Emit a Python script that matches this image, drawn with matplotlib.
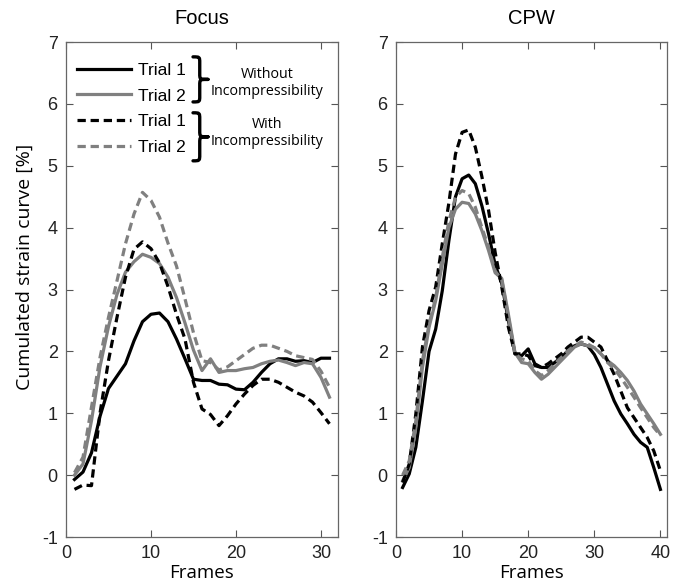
import numpy as np
import matplotlib.pyplot as plt
from matplotlib.path import Path
from matplotlib.patches import PathPatch

plt.rcParams["axes.unicode_minus"] = False

# cumulated strain per frame, Focus acquisition (31 frames)
focus_frames = np.arange(1, 32)
focus_t1_without = [-0.07, 0.05, 0.36, 0.95, 1.40, 1.60, 1.80, 2.17, 2.48, 2.60,
                    2.62, 2.48, 2.20, 1.88, 1.55, 1.53, 1.53, 1.47, 1.46, 1.39,
                    1.38, 1.50, 1.66, 1.80, 1.88, 1.88, 1.84, 1.85, 1.82, 1.89, 1.89]
focus_t2_without = [0.00, 0.18, 0.88, 1.75, 2.40, 2.92, 3.28, 3.45, 3.57, 3.52,
                    3.42, 3.20, 2.87, 2.46, 2.02, 1.69, 1.88, 1.66, 1.69, 1.69,
                    1.72, 1.74, 1.80, 1.84, 1.86, 1.82, 1.77, 1.82, 1.80, 1.58, 1.26]
focus_t1_with = [-0.23, -0.16, -0.17, 1.00, 1.85, 2.55, 3.20, 3.65, 3.77, 3.66,
                 3.43, 3.05, 2.60, 2.20, 1.50, 1.07, 0.98, 0.80, 0.96, 1.15,
                 1.31, 1.45, 1.55, 1.55, 1.50, 1.42, 1.34, 1.28, 1.18, 1.01, 0.83]
focus_t2_with = [0.04, 0.29, 1.10, 1.90, 2.55, 3.14, 3.74, 4.22, 4.57, 4.44,
                 4.17, 3.75, 3.38, 2.85, 2.30, 1.85, 1.82, 1.70, 1.75, 1.85,
                 1.95, 2.05, 2.10, 2.10, 2.05, 2.00, 1.93, 1.90, 1.87, 1.68, 1.42]

# cumulated strain per frame, CPW acquisition (40 frames)
cpw_frames = np.arange(1, 41)
cpw_t1_without = [-0.20, 0.02, 0.45, 1.20, 2.00, 2.36, 2.98, 3.79, 4.50, 4.79,
                  4.85, 4.71, 4.35, 3.90, 3.40, 3.10, 2.50, 1.96, 1.93, 2.04,
                  1.80, 1.74, 1.74, 1.82, 1.90, 2.01, 2.09, 2.12, 2.09, 1.95,
                  1.74, 1.47, 1.20, 0.99, 0.83, 0.66, 0.53, 0.45, 0.12, -0.23]
cpw_t2_without = [-0.09, 0.12, 0.77, 1.74, 2.39, 2.82, 3.41, 4.00, 4.30, 4.41,
                  4.39, 4.22, 3.95, 3.63, 3.27, 3.18, 2.60, 1.98, 1.82, 1.80,
                  1.66, 1.55, 1.63, 1.74, 1.85, 1.96, 2.07, 2.12, 2.09, 2.06,
                  1.96, 1.85, 1.77, 1.66, 1.53, 1.36, 1.15, 0.99, 0.83, 0.66]
cpw_t1_with = [-0.12, 0.18, 0.99, 2.07, 2.66, 3.04, 3.74, 4.40, 5.19, 5.54,
               5.58, 5.30, 4.82, 4.28, 3.60, 3.04, 2.39, 1.96, 1.96, 1.93,
               1.77, 1.74, 1.80, 1.88, 1.96, 2.07, 2.15, 2.23, 2.23, 2.15,
               2.07, 1.85, 1.63, 1.36, 1.09, 0.93, 0.77, 0.61, 0.39, 0.07]
cpw_t2_with = [0.00, 0.23, 0.88, 1.85, 2.44, 2.87, 3.52, 4.11, 4.49, 4.60,
               4.55, 4.33, 4.00, 3.68, 3.30, 3.15, 2.55, 1.96, 1.88, 1.85,
               1.69, 1.61, 1.69, 1.80, 1.90, 2.01, 2.09, 2.15, 2.12, 2.06,
               1.96, 1.82, 1.72, 1.58, 1.42, 1.26, 1.09, 0.93, 0.77, 0.64]

trial_labels = ["Trial 1", "Trial 2", "Trial 1", "Trial 2"]
group_labels = ["Without\nIncompressibility", "With\nIncompressibility"]

GRAY = "#808080"
LW = 2.3
DASH = (0, (2.6, 1.5))
TICK_FONT = "Liberation Sans"
LABEL_FONT = "Open Sans"

fig = plt.figure(figsize=(6.81, 5.82), dpi=100)
ax1 = fig.add_axes([0.0969, 0.0773, 0.3994, 0.8505])
ax2 = fig.add_axes([0.5815, 0.0773, 0.3980, 0.8505])


def draw_panel(ax, frames, t1_wo, t2_wo, t1_w, t2_w):
    l1, = ax.plot(frames, t1_wo, color="black", lw=LW)
    l2, = ax.plot(frames, t2_wo, color=GRAY, lw=LW)
    l3, = ax.plot(frames, t1_w, color="black", lw=LW, linestyle=DASH)
    l4, = ax.plot(frames, t2_w, color=GRAY, lw=LW, linestyle=DASH)
    ax.set_ylim(-1, 7)
    ax.set_yticks(range(-1, 8))
    ax.tick_params(direction="in", length=5, width=0.8, top=True, right=True,
                   color="#555555", labelsize=13, pad=6, labelcolor="#222222")
    for lab in ax.get_xticklabels() + ax.get_yticklabels():
        lab.set_fontfamily(TICK_FONT)
    for sp in ax.spines.values():
        sp.set_color("#666666")
        sp.set_linewidth(0.9)
    ax.set_xlabel("Frames", fontsize=13.5, family=LABEL_FONT, labelpad=1)
    return [l1, l2, l3, l4]


def curly_brace(ax, x0, ytop, ybot, width):
    # right-pointing brace, in axes fraction
    xm = x0 + 0.45 * width
    xt = x0 + width
    yc = 0.5 * (ytop + ybot)
    r = 0.13 * (ytop - ybot)
    verts = [(x0, ytop), (xm, ytop), (xm, ytop), (xm, ytop - r),
             (xm, yc + r),
             (xm, yc), (xm, yc), (xt, yc),
             (xm, yc), (xm, yc), (xm, yc - r),
             (xm, ybot + r),
             (xm, ybot), (xm, ybot), (x0, ybot)]
    codes = [Path.MOVETO] + [Path.CURVE4] * 3 + [Path.LINETO] + \
        [Path.CURVE4] * 6 + [Path.LINETO] + [Path.CURVE4] * 3
    ax.add_patch(PathPatch(Path(verts, codes), transform=ax.transAxes,
                           fill=False, lw=2.4, edgecolor="black",
                           capstyle="round", joinstyle="round", clip_on=False))


handles = draw_panel(ax1, focus_frames, focus_t1_without, focus_t2_without,
                     focus_t1_with, focus_t2_with)
ax1.set_xlim(0, 32)
ax1.set_xticks([0, 10, 20, 30])
ax1.set_title("Focus", fontsize=14.5, family=TICK_FONT, pad=13)
ax1.set_ylabel("Cumulated strain curve [%]", fontsize=14, family=LABEL_FONT)
ax1.yaxis.set_label_coords(-0.117, 0.545)

draw_panel(ax2, cpw_frames, cpw_t1_without, cpw_t2_without,
           cpw_t1_with, cpw_t2_with)
ax2.set_xlim(0, 41)
ax2.set_xticks([0, 10, 20, 30, 40])
ax2.set_title("CPW", fontsize=14.5, family=TICK_FONT, pad=13)

# legend with grouping braces
ax1.legend(handles, trial_labels, loc="upper left", bbox_to_anchor=(0.04, 0.958),
           frameon=False, prop={"family": TICK_FONT, "size": 12.5},
           handlelength=3.1, handletextpad=0.4, labelspacing=0.6,
           borderpad=0.0, borderaxespad=0.0)
curly_brace(ax1, 0.467, 0.970, 0.879, 0.055)
curly_brace(ax1, 0.467, 0.857, 0.760, 0.055)
ax1.text(0.739, 0.917, group_labels[0], transform=ax1.transAxes,
         ha="center", va="center", fontsize=10.3, family=LABEL_FONT,
         linespacing=1.25)
ax1.text(0.739, 0.816, group_labels[1], transform=ax1.transAxes,
         ha="center", va="center", fontsize=10.3, family=LABEL_FONT,
         linespacing=1.25)

fig.savefig("out.png", dpi=100)
